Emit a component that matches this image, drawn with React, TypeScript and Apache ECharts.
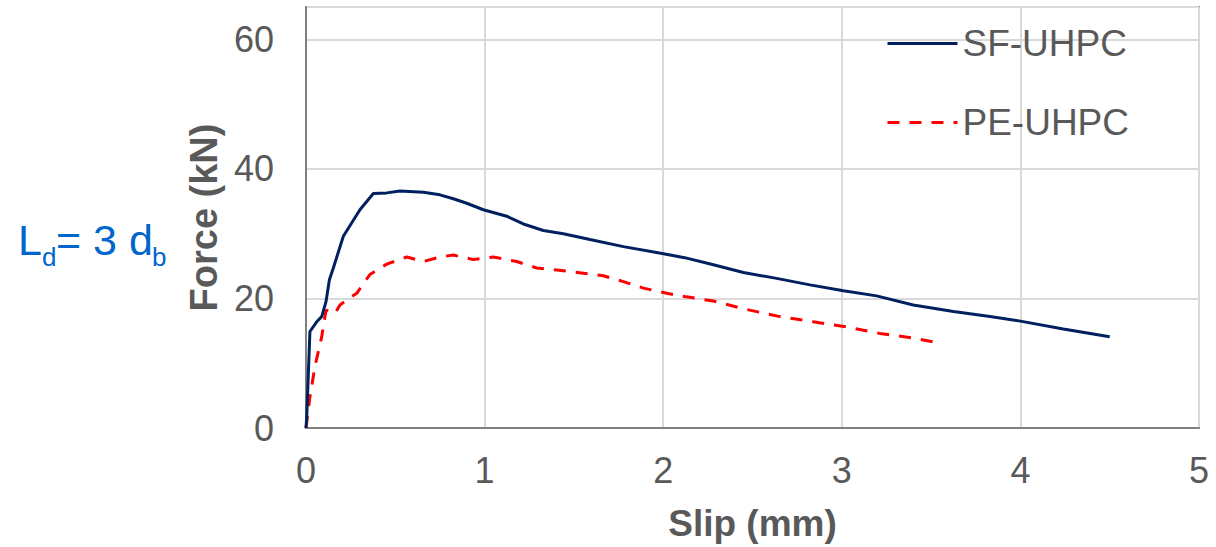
import React, { useEffect, useRef } from "react";
import * as echarts from "echarts";

// SF-UHPC: slip (mm) and force (kN)
const sfSlip = [0, 0.004, 0.022, 0.06, 0.088, 0.112, 0.131, 0.153, 0.209, 0.302, 0.377, 0.452, 0.526, 0.657, 0.75, 0.825, 0.9, 0.993, 1.124, 1.217, 1.329, 1.441, 1.59, 1.777, 1.963, 2.12, 2.281, 2.449, 2.635, 2.822, 3.009, 3.195, 3.4, 3.625, 3.83, 4.0, 4.24, 4.5];
const sfForce = [0, 1.7, 14.9, 16.4, 17.2, 19.5, 22.9, 24.7, 29.6, 33.7, 36.2, 36.3, 36.6, 36.4, 36.0, 35.4, 34.7, 33.7, 32.7, 31.5, 30.5, 30.0, 29.1, 28.0, 27.1, 26.3, 25.2, 24.0, 23.1, 22.1, 21.2, 20.4, 19.0, 18.0, 17.2, 16.5, 15.3, 14.1];

// PE-UHPC: slip (mm) and force (kN)
const peSlip = [0, 0.022, 0.05, 0.088, 0.112, 0.162, 0.19, 0.256, 0.284, 0.358, 0.452, 0.564, 0.657, 0.75, 0.825, 0.937, 1.049, 1.18, 1.292, 1.404, 1.553, 1.665, 1.777, 1.889, 2.02, 2.12, 2.281, 2.467, 2.654, 2.84, 3.027, 3.214, 3.4, 3.513];
const peForce = [0, 4.8, 9.5, 14.1, 18.2, 17.7, 19.0, 20.3, 20.8, 23.7, 25.3, 26.4, 25.7, 26.4, 26.7, 26.0, 26.4, 25.7, 24.7, 24.4, 23.9, 23.5, 22.6, 21.6, 20.8, 20.3, 19.6, 18.3, 17.2, 16.4, 15.6, 14.6, 13.9, 13.3];

const seriesNames = ["SF-UHPC", "PE-UHPC"];
const xTicks = [0, 1, 2, 3, 4, 5];
const yTicks = [0, 20, 40, 60];

const FONT = "'Liberation Sans', Arial, sans-serif";
const GRAY = "#595959";
const BLUE = "#0066cc";

export default function App() {
  const ref = useRef<HTMLDivElement>(null);
  useEffect(() => {
    if (!ref.current) return;
    const chart = echarts.init(ref.current, undefined, { renderer: "svg" });
    const sfData = sfSlip.map((x, i) => [x, sfForce[i]]);
    const peData = peSlip.map((x, i) => [x, peForce[i]]);
    chart.setOption({
      animation: false,
      backgroundColor: "#ffffff",
      textStyle: { fontFamily: FONT },
      grid: {
        left: 306,
        right: 17,
        top: 7,
        bottom: 119,
        show: true,
        borderColor: "#808080",
        borderWidth: 2,
        containLabel: false,
      },
      legend: {
        orient: "vertical",
        left: 886,
        top: 25,
        padding: 0,
        itemWidth: 70,
        itemHeight: 14,
        itemGap: 42,
        itemStyle: { opacity: 0 },
        lineStyle: { width: 3 },
        textStyle: { fontSize: 37, color: GRAY, fontFamily: FONT },
        data: seriesNames,
      },
      xAxis: {
        type: "value",
        min: xTicks[0],
        max: xTicks[xTicks.length - 1],
        interval: 1,
        name: "Slip (mm)",
        nameLocation: "middle",
        nameGap: 77,
        nameTextStyle: { fontSize: 37, fontWeight: "bold", color: GRAY, fontFamily: FONT },
        axisLine: { show: true, lineStyle: { color: "#808080", width: 2 } },
        axisTick: { show: false },
        axisLabel: { fontSize: 36, color: GRAY, margin: 24, fontFamily: FONT },
        splitLine: { show: true, lineStyle: { color: "#d9d9d9", width: 2 } },
      },
      yAxis: {
        type: "value",
        min: 0,
        max: 65,
        interval: 20,
        name: "Force (kN)",
        nameLocation: "middle",
        nameGap: 82,
        nameTextStyle: { fontSize: 38, fontWeight: "bold", color: GRAY, fontFamily: FONT },
        axisLine: { show: true, lineStyle: { color: "#808080", width: 2 } },
        axisTick: { show: false },
        axisLabel: {
          fontSize: 36,
          color: GRAY,
          margin: 32,
          fontFamily: FONT,
          formatter: (v: number) => (yTicks.includes(v) ? String(v) : ""),
        },
        splitLine: { show: true, lineStyle: { color: "#d9d9d9", width: 2 } },
      },
      series: [
        {
          name: seriesNames[0],
          type: "line",
          data: sfData,
          showSymbol: false,
          symbol: "none",
          lineStyle: { color: "#002060", width: 3 },
          itemStyle: { color: "#002060" },
          z: 3,
        },
        {
          name: seriesNames[1],
          type: "line",
          data: peData,
          showSymbol: false,
          symbol: "none",
          lineStyle: { color: "#ff0000", width: 3, type: [12, 10] },
          itemStyle: { color: "#ff0000" },
          z: 2,
        },
      ],
      graphic: [
        { type: "text", left: 18, top: 218, style: { text: "L", fontSize: 43, fill: BLUE, fontFamily: FONT } },
        { type: "text", left: 42, top: 244, style: { text: "d", fontSize: 26, fill: BLUE, fontFamily: FONT } },
        { type: "text", left: 56, top: 218, style: { text: "= 3 d", fontSize: 43, fill: BLUE, fontFamily: FONT } },
        { type: "text", left: 152, top: 244, style: { text: "b", fontSize: 26, fill: BLUE, fontFamily: FONT } },
      ],
    });
    return () => chart.dispose();
  }, []);
  return <div ref={ref} style={{ width: 1216, height: 547, position: "absolute", left: 0, top: 0 }} />;
}
